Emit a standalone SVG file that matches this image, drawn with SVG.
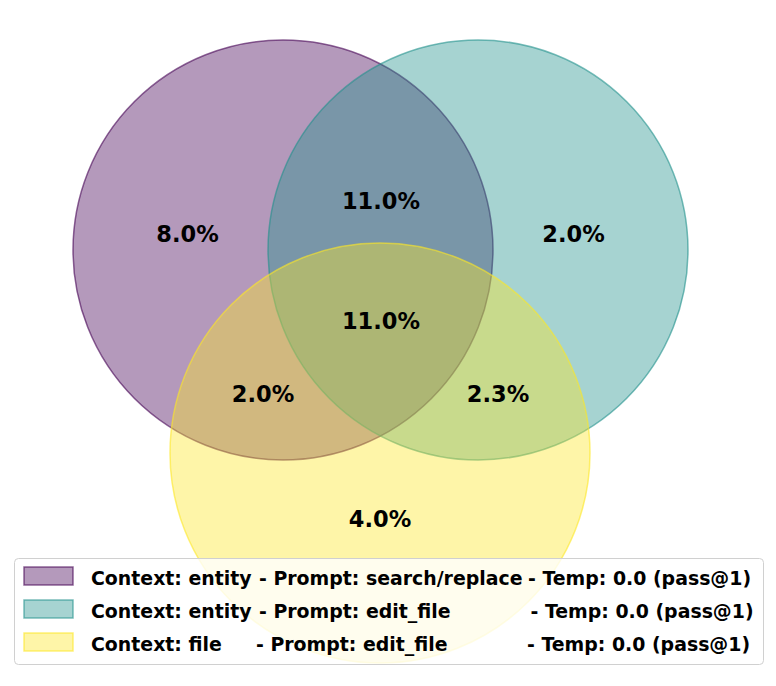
<svg xmlns="http://www.w3.org/2000/svg" width="776" height="686" viewBox="0 0 776 686">
<style>
.lbl{font-family:"DejaVu Sans",sans-serif;font-weight:bold;font-size:22.5px;fill:#000;text-anchor:middle}
.leg{font-family:"DejaVu Sans",sans-serif;font-weight:bold;font-size:18.9px;fill:#000}
.c{fill-opacity:0.4;stroke-opacity:0.6;stroke-width:1.5}
.p{fill:#440154;stroke:#440154}
.t{fill:#21918c;stroke:#21918c}
.y{fill:#fde725;stroke:#fde725}
</style>
<rect width="776" height="686" fill="#fff"/>
<g id="set-a"><circle class="c p" cx="283" cy="250" r="210"/></g>
<g id="set-b"><circle class="c t" cx="478" cy="250" r="210"/></g>
<g id="set-c"><circle class="c y" cx="380" cy="453" r="210"/></g>
<g id="labels">
<text class="lbl" x="187.5" y="242">8.0%</text>
<text class="lbl" x="381" y="208.5">11.0%</text>
<text class="lbl" x="573.5" y="242">2.0%</text>
<text class="lbl" x="381" y="328.5">11.0%</text>
<text class="lbl" x="263" y="401.7">2.0%</text>
<text class="lbl" x="498" y="401.7">2.3%</text>
<text class="lbl" x="380" y="527">4.0%</text>
</g>
<g id="legend">
<rect x="14.5" y="558.5" width="749" height="106" rx="4" fill="#fff" fill-opacity="0.8" stroke="#d0d0d0" stroke-width="1"/>
<rect class="c p" x="24" y="567" width="49" height="18"/>
<rect class="c t" x="24" y="600" width="49" height="18"/>
<rect class="c y" x="24" y="633" width="49" height="18"/>
<text class="leg" y="585"><tspan x="91">Context: entity</tspan><tspan x="259">- Prompt: search/replace</tspan><tspan x="528">- Temp: 0.0 (pass@1)</tspan></text>
<text class="leg" y="618"><tspan x="91">Context: entity</tspan><tspan x="259">- Prompt: edit_file</tspan><tspan x="530.5">- Temp: 0.0 (pass@1)</tspan></text>
<text class="leg" y="651"><tspan x="91">Context: file</tspan><tspan x="256">- Prompt: edit_file</tspan><tspan x="527">- Temp: 0.0 (pass@1)</tspan></text>
</g>
</svg>
